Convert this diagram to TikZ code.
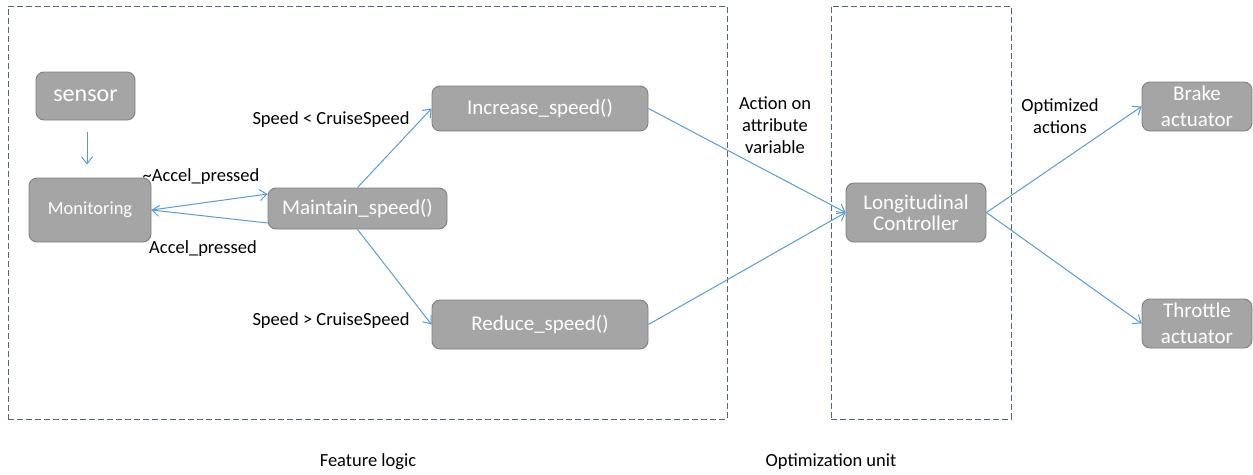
\documentclass[tikz,border=0pt]{standalone}
\usepackage{fontspec}
\setmainfont{Carlito}
\usetikzlibrary{arrows.meta}
\definecolor{boxfill}{HTML}{A5A5A5}
\definecolor{boxline}{HTML}{7F7F7F}
\definecolor{flow}{HTML}{5B9BD5}
\definecolor{frameline}{HTML}{52677F}
\tikzset{
  block/.style={draw=boxline, fill=boxfill, rounded corners=8pt, line width=0.9pt,
    text=white, align=center, inner sep=0pt, font=\fontsize{21}{21}\selectfont},
  flowarrow/.style={draw=flow, line width=1pt, -{Straight Barb[length=7pt,width=11pt]}},
  lbl/.style={inner sep=0pt, align=center, font=\fontsize{18.5}{22}\selectfont},
  frame/.style={draw=frameline, line width=1pt, dash pattern=on 6pt off 3pt, inner sep=0pt},
}
\begin{document}
\begin{tikzpicture}[x=1pt, y=-1pt]
\useasboundingbox (0,0) rectangle (1253,474);

% dashed group frames
\node[frame, minimum width=719pt, minimum height=413pt] (fl) at (367.5,212.5) {};
\node[frame, minimum width=180pt, minimum height=413pt] (ou) at (921,212.5) {};

% blocks
\node[block, minimum width=99pt, minimum height=48pt, font=\fontsize{24}{24}\selectfont] (sensor) at (85.5,96) {sensor};
\node[block, minimum width=122pt, minimum height=64pt, font=\fontsize{18.5}{18.5}\selectfont] (mon) at (90,210) {Monitoring};
\node[block, minimum width=179pt, minimum height=41pt] (maint) at (357.5,208.5) {Maintain\_speed()};
\node[block, minimum width=216pt, minimum height=45pt] (inc) at (540,108.5) {Increase\_speed()};
\node[block, minimum width=216pt, minimum height=49pt] (red) at (540,324.5) {Reduce\_speed()};
\node[block, minimum width=140pt, minimum height=59pt] (lon) at (916,212.5) {Longitudinal\\Controller};
\node[block, minimum width=110pt, minimum height=49pt, font=\fontsize{21}{26}\selectfont] (brake) at (1197,106.5) {Brake\\actuator};
\node[block, minimum width=110pt, minimum height=49pt, font=\fontsize{21}{26}\selectfont] (thr) at (1197,323.5) {Throttle\\actuator};

% connectors
\draw[flowarrow] ([xshift=1.5pt,yshift=-12pt]sensor.south) -- ([xshift=-3pt,yshift=13pt]mon.north);
\draw[flowarrow] (mon.east) -- ([yshift=14.5pt]maint.west);
\draw[flowarrow] ([yshift=-14.5pt]maint.west) -- (mon.east);
\draw[flowarrow] (maint.north) -- (inc.west);
\draw[flowarrow] (maint.south) -- (red.west);
\draw[flowarrow] (inc.east) -- (lon.west);
\draw[flowarrow] (red.east) -- (lon.west);
\draw[flowarrow] (lon.east) -- (brake.west);
\draw[flowarrow] (lon.east) -- (thr.west);

% transition labels
\node[lbl] (lt) at (331,120) {Speed < CruiseSpeed};
\node[lbl] (lg) at (331,321) {Speed > CruiseSpeed};
\node[lbl] (lna) at (201,177) {\textasciitilde Accel\_pressed};
\node[lbl] (la) at (203,249) {Accel\_pressed};
\node[lbl] (lact) at (775,125) {Action on\\attribute\\variable};
\node[lbl] (lopt) at (1060,116) {Optimized\\actions};

% group captions
\node[lbl] (cfl) at (368,462) {Feature logic};
\node[lbl] (cou) at (831,462) {Optimization unit};
\end{tikzpicture}
\end{document}
